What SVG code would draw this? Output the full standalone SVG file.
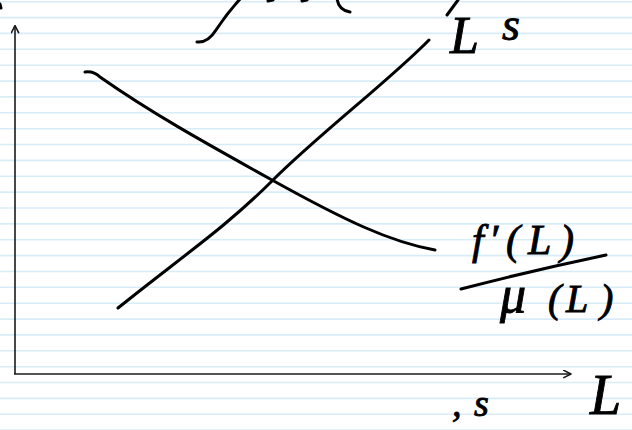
<svg xmlns="http://www.w3.org/2000/svg" width="632" height="430" viewBox="0 0 632 430">
  <style>
    .rule { stroke: #d8ecf8; stroke-width: 1.6; }
    .ink { fill: none; stroke: #000; stroke-width: 3; stroke-linecap: round; stroke-linejoin: round; }
    .axis { fill: none; stroke: #1a1a1a; stroke-width: 1.6; }
    .lbl { font-family: "Liberation Serif", "DejaVu Serif", serif; font-style: italic; fill: #000; stroke: #000; stroke-width: 0.9; }
  </style>
  <defs>
    <marker id="arr" viewBox="0 0 10 10" refX="9" refY="5" markerWidth="9" markerHeight="9" markerUnits="userSpaceOnUse" orient="auto">
      <path d="M1,1 L9,5 L1,9" fill="none" stroke="#1a1a1a" stroke-width="1.8" stroke-linecap="round" stroke-linejoin="round"/>
    </marker>
  </defs>
  <rect width="632" height="430" fill="#fff"/>
  <g id="paper">
    <line class="rule" x1="0" x2="632" y1="1.7" y2="1.7"/>
    <line class="rule" x1="0" x2="632" y1="17.6" y2="17.6"/>
    <line class="rule" x1="0" x2="632" y1="33.4" y2="33.4"/>
    <line class="rule" x1="0" x2="632" y1="49.3" y2="49.3"/>
    <line class="rule" x1="0" x2="632" y1="65.2" y2="65.2"/>
    <line class="rule" x1="0" x2="632" y1="81.1" y2="81.1"/>
    <line class="rule" x1="0" x2="632" y1="96.9" y2="96.9"/>
    <line class="rule" x1="0" x2="632" y1="112.8" y2="112.8"/>
    <line class="rule" x1="0" x2="632" y1="128.7" y2="128.7"/>
    <line class="rule" x1="0" x2="632" y1="144.5" y2="144.5"/>
    <line class="rule" x1="0" x2="632" y1="160.4" y2="160.4"/>
    <line class="rule" x1="0" x2="632" y1="176.3" y2="176.3"/>
    <line class="rule" x1="0" x2="632" y1="192.1" y2="192.1"/>
    <line class="rule" x1="0" x2="632" y1="208.0" y2="208.0"/>
    <line class="rule" x1="0" x2="632" y1="223.9" y2="223.9"/>
    <line class="rule" x1="0" x2="632" y1="239.7" y2="239.7"/>
    <line class="rule" x1="0" x2="632" y1="255.6" y2="255.6"/>
    <line class="rule" x1="0" x2="632" y1="271.5" y2="271.5"/>
    <line class="rule" x1="0" x2="632" y1="287.3" y2="287.3"/>
    <line class="rule" x1="0" x2="632" y1="303.2" y2="303.2"/>
    <line class="rule" x1="0" x2="632" y1="319.1" y2="319.1"/>
    <line class="rule" x1="0" x2="632" y1="334.9" y2="334.9"/>
    <line class="rule" x1="0" x2="632" y1="350.8" y2="350.8"/>
    <line class="rule" x1="0" x2="632" y1="366.7" y2="366.7"/>
    <line class="rule" x1="0" x2="632" y1="382.5" y2="382.5"/>
    <line class="rule" x1="0" x2="632" y1="398.4" y2="398.4"/>
    <line class="rule" x1="0" x2="632" y1="414.3" y2="414.3"/>
    <line class="rule" x1="0" x2="632" y1="430.1" y2="430.1"/>
  </g>
  <g id="connectors">
    <path id="y-axis" class="axis" d="M15,374 L15,25.5" marker-end="url(#arr)"/>
    <path id="x-axis" class="axis" d="M14,374 L571,374" marker-end="url(#arr)"/>
    <path id="demand-curve" class="ink" d="M85,72 Q94,71 100,77 C150,112 200,140 272,180 S390,242 435,250"/>
    <path id="supply-curve" class="ink" d="M118,308 C180,258 225,228 272,181 S390,80 429,40"/>
    <path id="fraction-bar" class="ink" d="M461,289 Q530,271 606,255"/>
  </g>
  <g id="top-fragment">
    <path class="ink" d="M197,42 Q208,43 216,30 Q228,12 241,-2"/>
    <path class="ink" d="M268,1 L273,0"/>
    <path class="ink" d="M302,1 L307,0"/>
    <path class="ink" d="M337,-2 Q338,10 350,12"/>
    <path class="ink" d="M447,15 L458,0"/>
    <path class="ink" d="M0,4 L1,8"/>
  </g>
  <g id="label-Ls">
    <text class="lbl" x="450" y="53" font-size="52">L</text>
    <text class="lbl" x="502" y="40" font-size="46">s</text>
  </g>
  <g id="label-ratio">
    <text class="lbl" font-size="42" x="472 489 506 528 560" y="254">f′(L)</text>
    <text class="lbl" y="312"><tspan font-size="52" x="500">μ</tspan><tspan font-size="40" x="548">(</tspan><tspan font-size="40" x="566">L</tspan><tspan font-size="40" x="600">)</tspan></text>
  </g>
  <g id="label-L">
    <text class="lbl" x="590" y="414" font-size="56">L</text>
  </g>
  <g id="label-s-bottom">
    <text class="lbl" font-size="38" x="452 474" y="416">,s</text>
  </g>
</svg>
